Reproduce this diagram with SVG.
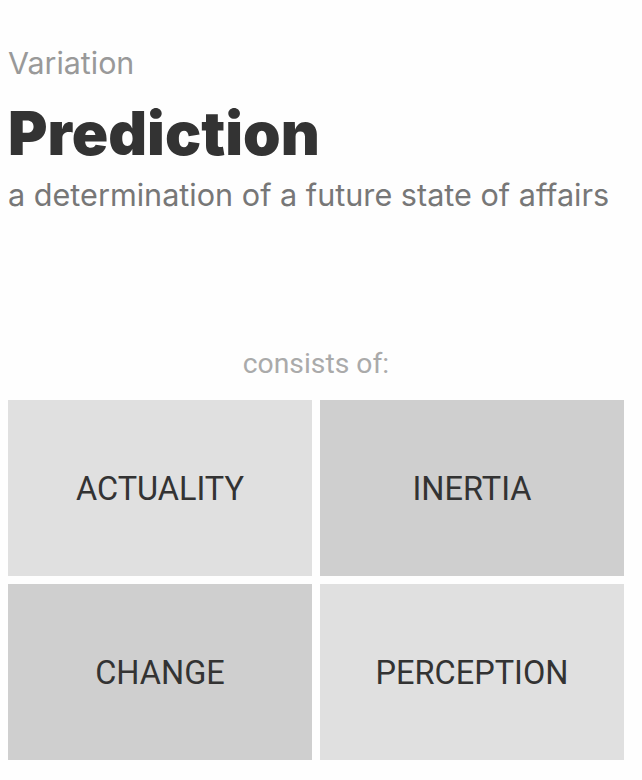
<svg xmlns="http://www.w3.org/2000/svg" width="642" height="780" viewBox="0 0 642 780">
<style>
.hd{font-family:Inter,"Noto Sans",sans-serif}
.lbl{font-family:Roboto,"Liberation Sans",sans-serif;font-size:32.5px;fill:#333;text-anchor:middle}
.light{fill:#e0e0e0}
.dark{fill:#cfcfcf}
</style>
<rect width="642" height="780" fill="#fefefe"/>
<text class="hd" x="8" y="74" font-size="30.4" fill="#999">Variation</text>
<text class="hd" x="8" y="155" font-size="60.2" font-weight="900" fill="#333">Prediction</text>
<text class="hd" x="8" y="206" font-size="30.6" fill="#777">a determination of a future state of affairs</text>
<text x="316" y="373" font-family="Roboto,'Liberation Sans',sans-serif" font-size="28.3" fill="#aaa" text-anchor="middle">consists of:</text>
<g id="actuality"><rect class="light" x="8" y="400" width="304" height="176"/><text class="lbl" x="160" y="500">ACTUALITY</text></g>
<g id="inertia"><rect class="dark" x="320" y="400" width="304" height="176"/><text class="lbl" x="472" y="500">INERTIA</text></g>
<g id="change"><rect class="dark" x="8" y="584" width="304" height="176"/><text class="lbl" x="160" y="684">CHANGE</text></g>
<g id="perception"><rect class="light" x="320" y="584" width="304" height="176"/><text class="lbl" x="472" y="684">PERCEPTION</text></g>
<g id="connectors"></g>
</svg>
